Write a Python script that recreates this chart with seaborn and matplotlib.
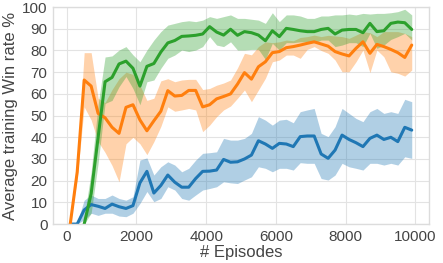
import numpy as np
import matplotlib
matplotlib.use("Agg")
import matplotlib.pyplot as plt
import seaborn as sns

# episodes at which the win rate was logged
episodes = list(range(100, 10000, 200))
green_episodes = episodes[2:]

blue_mean = [0, 0, 6.5, 9, 8.2, 7.2, 9.2, 8, 7.2, 8.5,
             19, 24.3, 14.3, 17.8, 22.6, 19.3, 17, 17, 21, 24.3,
             24.4, 24.9, 29.8, 28.5, 28.7, 30, 31.8, 38.4, 36.9, 34.9,
             37.2, 36.9, 35.7, 40.3, 40.6, 40.6, 32.3, 30.3, 34.1, 41,
             39, 37.5, 35.7, 39.5, 41, 39, 40, 38, 44.6, 43.3]
blue_lo = [0, 0, 2, 5, 4, 5, 5, 3.7, 3.4, 5,
           9.5, 15, 10.3, 11.8, 17.2, 15.7, 11.8, 11, 13.4, 15.7,
           16.4, 17.2, 19.5, 19, 18.7, 20.3, 21.8, 26.4, 25.7, 24.1,
           25.7, 25.7, 24.9, 28.3, 28, 28, 21, 20.3, 22.6, 28,
           26.4, 25.7, 24.9, 28, 28, 27.2, 28, 27.2, 31, 30.3]
blue_hi = [0, 1, 11, 13.4, 11.8, 11.8, 13.4, 11.8, 11, 12.6,
           29.5, 30.5, 22.6, 26.4, 28.7, 27.2, 24.1, 25.7, 29.5, 32.6,
           32.9, 33.3, 39.5, 38.7, 38.7, 39.5, 41.8, 49.5, 47.9, 45.6,
           47.9, 48.3, 46.7, 51.8, 52.6, 53.3, 41.8, 40.3, 44.9, 53.3,
           51, 48.7, 47.2, 51.8, 53.3, 51, 51.8, 51, 57.5, 56.4]

orange_mean = [0, 24, 66.4, 63.6, 51, 49, 44.6, 41.8, 53.8, 55,
               48, 43, 47.6, 52, 61.5, 59, 59.3, 61.6, 61.6, 54,
               55, 57.7, 58.8, 60, 64.5, 69.8, 66.8, 72.5, 74.8, 79,
               79.5, 81.3, 81.8, 82.5, 83.3, 84, 83, 82, 79.5, 78.4,
               77.5, 81, 84, 78.7, 82.8, 81.8, 80.5, 79, 76.8, 82.5]
orange_lo = [0, 21, 54, 48, 38, 33, 27, 19.5, 37, 40,
             37, 32, 38, 45, 54, 52, 52.6, 53.3, 52.6, 42.6,
             45.6, 49.5, 52.6, 54.4, 58, 61.8, 56.4, 61.8, 67.2, 74.8,
             75.6, 77.9, 77.9, 76.4, 80.5, 81.8, 80, 78.7, 75.6, 70.2,
             70.2, 74.8, 80.2, 69.8, 80.2, 77.1, 70.2, 69.5, 68.2, 71]
orange_hi = [0, 27, 79, 79, 58, 56, 62, 67, 70, 69,
             64, 57, 58, 66, 67, 65.6, 66.4, 66.7, 66.7, 62,
             62.5, 64, 65, 66.4, 72, 78.7, 78, 81.8, 84, 83.6,
             84, 84.8, 84.5, 86, 86.4, 87.1, 86.4, 87, 86.7, 86.4,
             85.6, 87.1, 88.7, 88.2, 86.4, 88.7, 88.7, 88.7, 87.9, 86.4]

green_mean = [0, 14, 40, 65.6, 67.6, 73.8, 75.1, 71.8, 63.6, 72.7,
              74, 79.3, 83.5, 84.6, 86.5, 86.7, 87, 87.6, 91, 88.5,
              87.1, 89.8, 87, 88.7, 88.2, 87.1, 84.5, 89.1, 86.4, 90.2,
              89.7, 89.1, 88.7, 88.7, 89.7, 90.2, 87.6, 89.4, 89.7, 89.7,
              88.2, 92.5, 88.7, 89.1, 92.5, 93.1, 92.8, 89.7]
green_lo = [0, 5, 28, 55.6, 57, 63.3, 68, 62.5, 55, 65.6,
            66.4, 71.8, 76.4, 77.9, 80.2, 79.5, 80.2, 81.8, 86.4, 82.5,
            81.8, 84, 80.2, 80.2, 80.5, 80.5, 75.9, 83.3, 80.2, 83.6,
            83.6, 84, 84, 83.6, 84.8, 84.8, 81.8, 82.5, 83.6, 83.6,
            81.8, 87.9, 81, 82.5, 85.1, 86.4, 87.9, 84.8]
green_hi = [3, 24, 55, 77, 77.5, 80.2, 81.8, 78, 74.8, 80.2,
            84.8, 88.7, 91.7, 92.5, 93.3, 93.7, 93.3, 94, 95.6, 94.8,
            95.6, 96.4, 94.8, 94.8, 94.4, 94, 92.5, 97.4, 93.3, 96.4,
            96.4, 95.9, 94.8, 94.8, 95.9, 95.9, 96.4, 96.4, 96.8, 96.4,
            97.1, 96.8, 97.1, 97.1, 97.4, 97.9, 99, 96.4]

sns.set_style("whitegrid", {
    "axes.edgecolor": "#dcdcdc",
    "grid.color": "#e3e3e3",
    "text.color": "#444444",
    "axes.labelcolor": "#444444",
    "xtick.color": "#444444",
    "ytick.color": "#444444",
})
plt.rcParams["font.family"] = ["Liberation Sans", "DejaVu Sans"]

colors = sns.color_palette("tab10", 3)
series = [
    (episodes, blue_mean, blue_lo, blue_hi),
    (episodes, orange_mean, orange_lo, orange_hi),
    (green_episodes, green_mean, green_lo, green_hi),
]

fig, ax = plt.subplots(figsize=(4.43, 2.63), dpi=100)
fig.subplots_adjust(left=0.120, right=0.968, top=0.973, bottom=0.148)

for (xs, mean, lo, hi), c in zip(series, colors):
    ax.fill_between(xs, lo, hi, color=c, alpha=0.35, linewidth=0)
    sns.lineplot(x=xs, y=mean, color=c, linewidth=2.2, ax=ax)

ax.set_ylim(0, 100)
ax.set_yticks(range(0, 101, 10))
ax.set_xticks(range(0, 10001, 2000))
ax.tick_params(length=0, pad=4, labelsize=11)
ax.set_xlabel("# Episodes", fontsize=12, labelpad=1)
ax.set_ylabel("Average training Win rate %", fontsize=12, labelpad=3)
for s in ax.spines.values():
    s.set_linewidth(1)

fig.savefig("out.png", dpi=100)
